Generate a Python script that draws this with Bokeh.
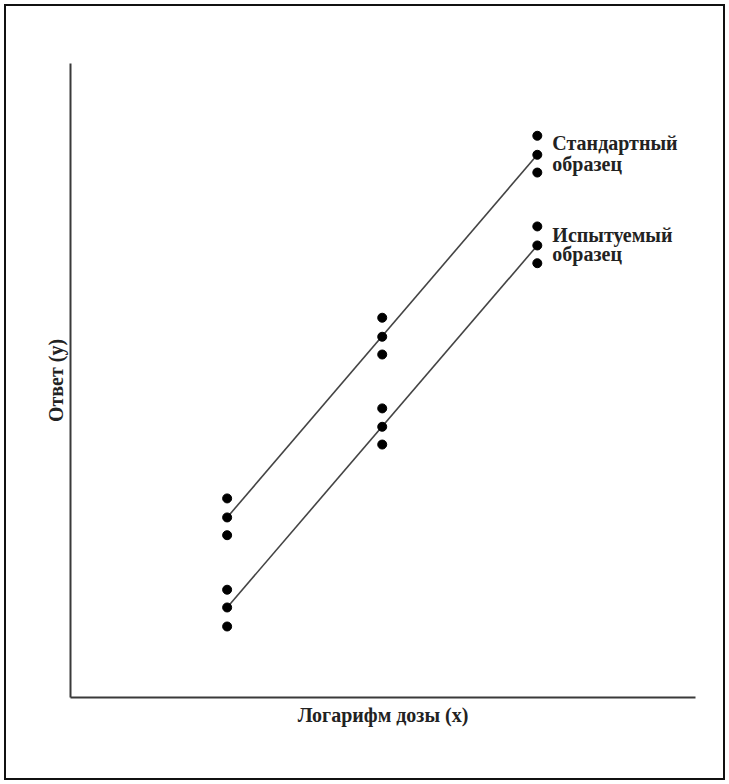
from bokeh.plotting import figure
from bokeh.models import FixedTicker
from bokeh.core.properties import value
from bokeh.embed import file_html
from bokeh.resources import INLINE

# log dose levels
log_dose = [1, 2, 3]
# Standard preparation: responses (3 replicates per dose)
std_high = [31.4, 59.9, 88.6]
std_mid = [28.4, 56.9, 85.6]
std_low = [25.6, 54.1, 82.8]
# Test preparation
test_high = [17.0, 45.6, 74.3]
test_mid = [14.2, 42.7, 71.3]
test_low = [11.2, 39.9, 68.5]

std_label = ["Стандартный", "образец"]
test_label = ["Испытуемый", "образец"]
x_label = "Логарифм дозы (x)"
y_label = "Ответ (y)"

W, H = 721, 776
p = figure(width=W, height=H, output_backend="svg", toolbar_location=None,
           x_range=(-0.01, 4.02), y_range=(0, 100),
           min_border_left=64, min_border_right=32, min_border_top=57, min_border_bottom=85)
p.styles = {"border": "2px solid #111", "box-sizing": "border-box",
            "margin-left": "4px", "margin-top": "4px"}
p.outline_line_color = None
p.grid.visible = False
p.background_fill_color = "white"
p.border_fill_color = "white"

for ax in (p.xaxis[0], p.yaxis[0]):
    ax.ticker = FixedTicker(ticks=[])
    ax.major_tick_line_color = None
    ax.minor_tick_line_color = None
    ax.major_label_text_font_size = "0px"
    ax.axis_line_color = "#3a3a3a"
    ax.axis_line_width = 2
    ax.axis_label_text_font = "Liberation Serif"
    ax.axis_label_text_font_style = "bold"
    ax.axis_label_text_font_size = "20px"
    ax.axis_label_text_color = "#222"

p.xaxis.axis_label = x_label
p.yaxis.axis_label = y_label
p.xaxis.axis_label_standoff = 6
p.yaxis.axis_label_standoff = 4

# fitted lines through middle points
p.line([log_dose[0], log_dose[-1]], [std_mid[0], std_mid[-1]], line_color="#444", line_width=1.6)
p.line([log_dose[0], log_dose[-1]], [test_mid[0], test_mid[-1]], line_color="#444", line_width=1.6)

xs = log_dose * 6
ys = std_high + std_mid + std_low + test_high + test_mid + test_low
p.scatter(xs, ys, size=9, color="black")

tx = log_dose[-1] + 0.097
p.text(x=[tx, tx], y=[87.4, 84.2], text=std_label, text_font=value("Liberation Serif"),
       text_font_style="bold", text_font_size="20px", text_baseline="middle",
       text_align="left", text_color="#222")
p.text(x=[tx, tx], y=[73.0, 69.9], text=test_label, text_font=value("Liberation Serif"),
       text_font_style="bold", text_font_size="20px", text_baseline="middle",
       text_align="left", text_color="#222")

open("out.html", "w").write(file_html(p, INLINE))
